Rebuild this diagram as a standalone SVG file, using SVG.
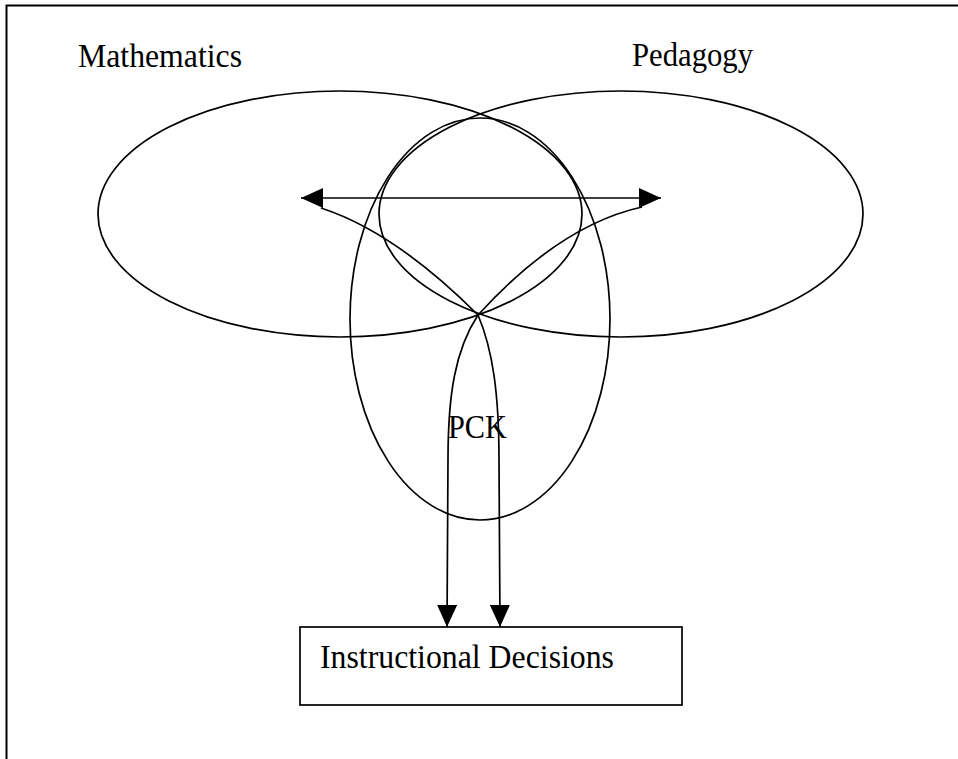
<svg xmlns="http://www.w3.org/2000/svg" width="958" height="759" viewBox="0 0 958 759">
<style>
.shape{fill:none;stroke:#000;stroke-width:1.7}
.conn{fill:none;stroke:#000;stroke-width:1.7}
.lbl{font-family:"Liberation Serif","Times New Roman",serif;font-size:34px;fill:#000}
</style>
<defs>
<marker id="arrow" viewBox="0 0 22 20" refX="22" refY="10" markerWidth="22" markerHeight="20" markerUnits="userSpaceOnUse" orient="auto-start-reverse">
<path d="M0,0 L22,10 L0,20 Z" fill="#000"/>
</marker>
</defs>
<rect width="958" height="759" fill="#fff"/>
<path d="M6.5,760 V5.5 H960" fill="none" stroke="#000" stroke-width="2"/>
<g id="mathematics">
<ellipse class="shape" cx="340" cy="214" rx="242" ry="123"/>
<text class="lbl" x="78" y="67" textLength="164" lengthAdjust="spacingAndGlyphs">Mathematics</text>
</g>
<g id="pedagogy">
<ellipse class="shape" cx="621" cy="214" rx="242" ry="123"/>
<text class="lbl" x="632" y="66" textLength="121" lengthAdjust="spacingAndGlyphs">Pedagogy</text>
</g>
<g id="pck">
<ellipse class="shape" cx="480" cy="319" rx="130" ry="201"/>
<text class="lbl" x="448" y="438" textLength="59" lengthAdjust="spacingAndGlyphs">PCK</text>
</g>
<g id="instructional-decisions">
<rect class="shape" x="300" y="627" width="382" height="78"/>
<text class="lbl" x="320" y="668" textLength="294" lengthAdjust="spacingAndGlyphs">Instructional Decisions</text>
</g>
<g id="connectors">
<line class="conn" x1="301" y1="198" x2="661" y2="198" marker-start="url(#arrow)" marker-end="url(#arrow)"/>
<path class="conn" d="M478,315 Q395,232 321,208"/>
<path class="conn" d="M478,315 Q560,225 642,207"/>
<path class="conn" d="M478,315 C455,350 448,395 448,460 L447,627" marker-end="url(#arrow)"/>
<path class="conn" d="M478,315 C493,350 499,395 499,460 L500,627" marker-end="url(#arrow)"/>
</g>
</svg>
